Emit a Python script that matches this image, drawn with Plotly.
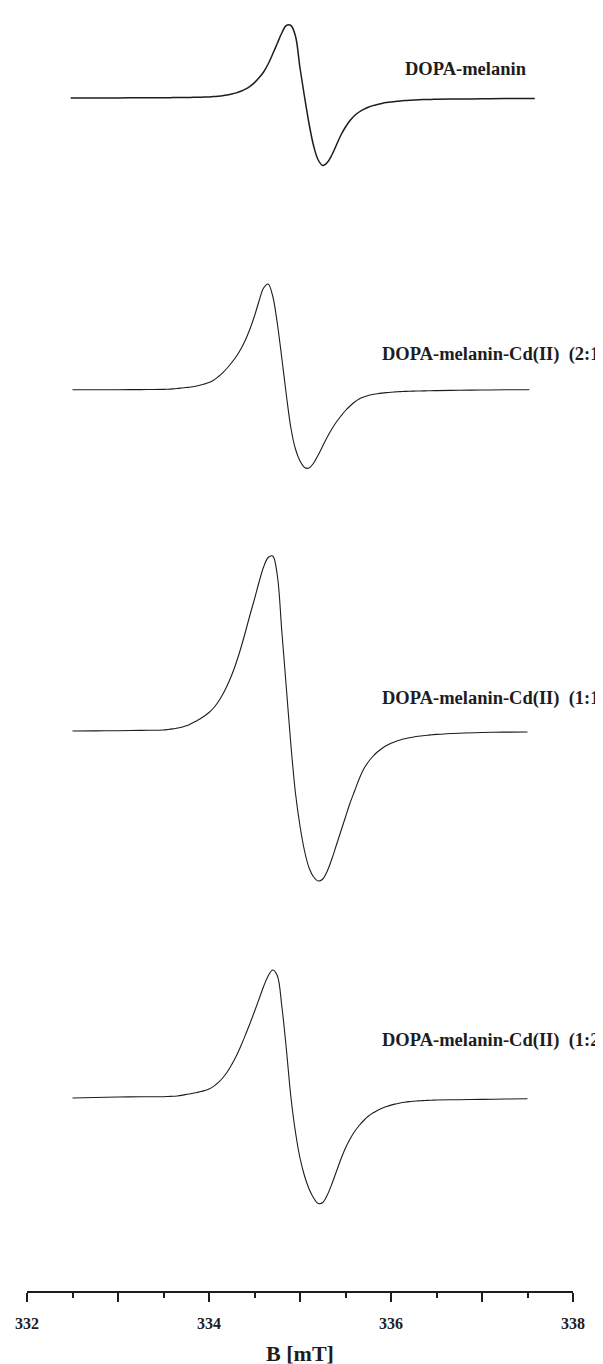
import plotly.graph_objects as go

# ---- data (B in mT, signal in arbitrary units) ----
# dense field grid used where the signal changes (mT)
b_core = [333.50, 333.55, 333.60, 333.65, 333.70, 333.75, 333.80, 333.85, 333.90, 333.95,
          334.00, 334.05, 334.10, 334.15, 334.20, 334.25, 334.30, 334.35, 334.40, 334.45,
          334.50, 334.55, 334.60, 334.65, 334.70, 334.75, 334.80, 334.85, 334.90, 334.95,
          335.00, 335.05, 335.10, 335.15, 335.20, 335.25, 335.30, 335.35, 335.40, 335.45,
          335.50, 335.55, 335.60, 335.65, 335.70, 335.75, 335.80, 335.85, 335.90, 335.95,
          336.00, 336.05, 336.10, 336.15, 336.20, 336.25, 336.30, 336.35, 336.40, 336.45,
          336.50]

# DOPA-melanin
b1 = [332.48, 332.75, 333.00, 333.25] + b_core + [336.75, 337.00, 337.25, 337.58]
s1 = [0, 0, 0.1, 0.2,
      0.3, 0.3, 0.4, 0.4, 0.5, 0.5, 0.6, 0.7, 0.8, 0.9,
      1.1, 1.4, 1.8, 2.3, 3.0, 3.9, 5.1, 6.7, 8.8, 11.6,
      15.4, 20.2, 26, 34, 44, 54.5, 65, 72.5, 72.5, 62,
      30, 1, -26, -48, -62, -67.5, -64.5, -57, -47, -37,
      -29, -22.5, -17.5, -14, -11.3, -9.2, -7.6, -6.4, -5.4, -4.6,
      -4.0, -3.5, -3.0, -2.6, -2.3, -2.0, -1.8, -1.6, -1.5, -1.4,
      -1.3,
      -1.0, -0.8, -0.6, -0.5]

# DOPA-melanin-Cd(II) (2:1)
b2 = [332.50, 332.75, 333.00, 333.25] + b_core + [336.75, 337.00, 337.25, 337.52]
s2 = [0.3, 0.3, 0.3, 0.4,
      0.6, 0.8, 1.1, 1.5, 2.0, 2.5, 3.0, 3.8, 4.8, 6.0,
      7.5, 9.8, 13.2, 17.2, 22, 27.5, 33.5, 41, 50, 61,
      74, 89, 102, 106, 94, 67, 32, -5, -38, -59,
      -71, -77.5, -78, -73, -65, -56, -47, -39, -32, -26,
      -20.5, -16, -12, -9, -7, -5.5, -4.5, -3.7, -3.1, -2.6,
      -2.2, -1.9, -1.6, -1.4, -1.2, -1.1, -1.0, -0.9, -0.8, -0.7,
      -0.6,
      -0.3, 0, 0.2, 0.3]

# DOPA-melanin-Cd(II) (1:1)
b3 = [332.50, 332.75, 333.00, 333.25] + b_core + [336.75, 337.00, 337.25, 337.50]
s3 = [0, 0.1, 0.3, 0.6,
      1.0, 1.5, 2.1, 2.9, 3.8, 5.2, 7.2, 9.5, 12, 15,
      18.5, 23, 29, 36.5, 45.5, 56, 68.5, 83, 99, 116,
      132, 149, 164, 173.5, 175, 156, 100, 43, -14, -62,
      -95, -120, -137, -146, -150, -148, -140, -128, -114, -100,
      -86, -72, -60, -48, -38, -31, -25.5, -21, -17.5, -14.5,
      -12.2, -10.4, -9, -7.8, -6.8, -6, -5.3, -4.7, -4.2, -3.8,
      -3.4,
      -2.2, -1.5, -1.1, -1.0]

# DOPA-melanin-Cd(II) (1:2)
b4 = [332.50, 332.75, 333.00, 333.25] + b_core + [336.75, 337.00, 337.25, 337.50]
s4 = [-1.0, -0.5, 0, 0.2,
      0.3, 0.5, 0.7, 1.0, 1.6, 2.6, 3.3, 4.2, 5.2, 6.4,
      8.0, 10.6, 14.3, 19, 25, 32.5, 41, 51, 62, 73.5,
      85.5, 98, 110.5, 121, 127, 121.5, 91, 48, 0, -35,
      -61, -79, -92, -101, -106.5, -105.5, -98, -87, -74.5, -62,
      -51, -42, -34.5, -28.5, -23.5, -19.3, -16, -13.4, -11.2, -9.5,
      -8.1, -7, -6, -5.2, -4.6, -4.2, -3.9, -3.6, -3.4, -3.2,
      -3.0,
      -2.7, -2.4, -2.0, -1.7]

labels = ["DOPA-melanin", "DOPA-melanin-Cd(II)  (2:1)",
          "DOPA-melanin-Cd(II)  (1:1)", "DOPA-melanin-Cd(II)  (1:2)"]

tick_vals = [332, 333, 334, 335, 336, 337, 338]
tick_text = ["332", "", "334", "", "336", "", "338"]

# ---- layout constants ----
W, H = 603, 1364
PLOT_H = 1283                       # px height of plotting area (axis line at bottom)
baseline_px = [90, 382, 723, 1089]  # vertical position of each trace's baseline
label_px = [(520, 61), (599, 347), (599, 690), (599, 1032)]
line_w = [1.5, 1.1, 1.1, 1.1]
INK = "#1e1c1d"

series = [(b1, s1), (b2, s2), (b3, s3), (b4, s4)]

fig = go.Figure()
for (bx, sy), base, lw in zip(series, baseline_px, line_w):
    off = PLOT_H - base
    fig.add_trace(go.Scatter(
        x=bx, y=[v + off for v in sy], mode="lines",
        line=dict(color=INK, width=lw, shape="spline", smoothing=1.0),
        showlegend=False, hoverinfo="skip"))

x0, x1 = 19, 565
for text, (lx, ly) in zip(labels, label_px):
    fig.add_annotation(
        xref="paper", yref="paper",
        x=(lx - x0) / (x1 - x0), y=(PLOT_H - ly) / PLOT_H,
        xanchor="right", yanchor="middle", showarrow=False,
        borderpad=0,
        text="<b>" + text + "</b>",
        font=dict(family="Liberation Serif", size=18.5, color=INK))

fig.update_layout(
    width=W, height=H,
    margin=dict(l=x0, r=W - x1, t=0, b=H - PLOT_H, pad=0),
    paper_bgcolor="white", plot_bgcolor="white",
    xaxis=dict(
        range=[332, 338], tickvals=tick_vals, ticktext=tick_text,
        showline=True, linecolor=INK, linewidth=2,
        ticks="outside", ticklen=9, tickwidth=2, tickcolor=INK,
        showgrid=False, zeroline=False,
        tickfont=dict(family="Liberation Serif", size=16, color=INK, weight="bold"),
        ticklabelstandoff=8,
        minor=dict(dtick=0.5, tick0=332, ticks="outside", ticklen=5, tickwidth=2,
                   tickcolor=INK, showgrid=False),
        title=dict(text="<b>B [mT]</b>", standoff=14,
                   font=dict(family="Liberation Serif", size=22, color=INK)),
    ),
    yaxis=dict(range=[0, PLOT_H], visible=False, showgrid=False, zeroline=False),
)

fig.write_html("out.html")
